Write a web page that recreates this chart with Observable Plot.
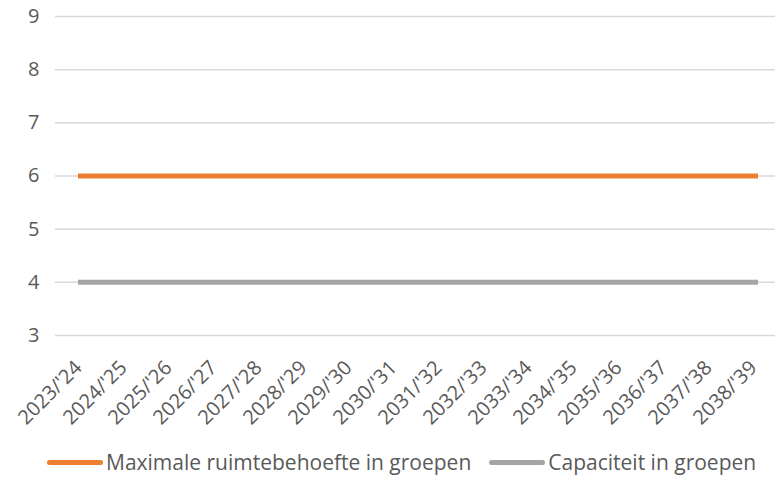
<!DOCTYPE html>
<html>
<head>
<meta charset="utf-8">
<script src="https://cdn.jsdelivr.net/npm/d3@7"></script>
<script src="https://cdn.jsdelivr.net/npm/@observablehq/plot@0.6"></script>
<style>
  html, body { margin: 0; padding: 0; background: #fff; }
  body { width: 775px; font-family: "Open Sans", sans-serif; color: #595959; }
  #legend { display: flex; justify-content: flex-start; align-items: center; height: 26px; margin-top: 9px; font-size: 21px; padding-left: 47px; white-space: nowrap; }
  .item { display: flex; align-items: center; }
  .sw { width: 56px; height: 5px; border-radius: 2.5px; margin-right: 3px; }
</style>
</head>
<body>
<div id="chart"></div>
<div id="legend"></div>
<script>
const years = ["2023/'24","2024/'25","2025/'26","2026/'27","2027/'28","2028/'29","2029/'30","2030/'31","2031/'32","2032/'33","2033/'34","2034/'35","2035/'36","2036/'37","2037/'38","2038/'39"];
const maxRuimte = [6,6,6,6,6,6,6,6,6,6,6,6,6,6,6,6];
const capaciteit = [4,4,4,4,4,4,4,4,4,4,4,4,4,4,4,4];
const yTicks = [3,4,5,6,7,8,9];
const seriesNames = ["Maximale ruimtebehoefte in groepen", "Capaciteit in groepen"];
const colors = ["#ED7D31", "#A5A5A5"];

const data = [
  ...years.map((y, i) => ({year: y, value: maxRuimte[i], series: seriesNames[0]})),
  ...years.map((y, i) => ({year: y, value: capaciteit[i], series: seriesNames[1]}))
];

const chart = Plot.plot({
  width: 775,
  height: 440,
  marginTop: 16,
  marginBottom: 105,
  marginLeft: 55,
  marginRight: 0,
  style: {fontFamily: "Open Sans, sans-serif", fontSize: "20px", color: "#595959", background: "#fff"},
  x: {type: "point", domain: years, range: [77.5, 757.5], padding: 0, label: null},
  y: {domain: [3, 9], ticks: yTicks, label: null},
  color: {domain: seriesNames, range: colors},
  marks: [
    Plot.ruleY(yTicks, {stroke: "#d9d9d9", strokeWidth: 1.5}),
    Plot.axisY({ticks: yTicks, tickFormat: d3.format("d"), tickSize: 0, tickPadding: 16, fontSize: 20, fill: "#595959", label: null}),
    Plot.axisX({tickSize: 0, tickRotate: -45, tickPadding: 26, dx: -2, dy: 3, fontSize: 20, fill: "#595959", label: null}),
    Plot.line(data, {x: "year", y: "value", z: "series", stroke: "series", strokeWidth: 5, strokeLinecap: "square"})
  ]
});
document.getElementById("chart").appendChild(chart);

const legend = document.getElementById("legend");
seriesNames.forEach((name, i) => {
  const item = document.createElement("div");
  item.className = "item";
  if (i > 0) item.style.marginLeft = "18px";
  const sw = document.createElement("div");
  sw.className = "sw";
  sw.style.background = colors[i];
  const t = document.createElement("span");
  t.textContent = name;
  item.appendChild(sw);
  item.appendChild(t);
  legend.appendChild(item);
});
</script>
</body>
</html>
